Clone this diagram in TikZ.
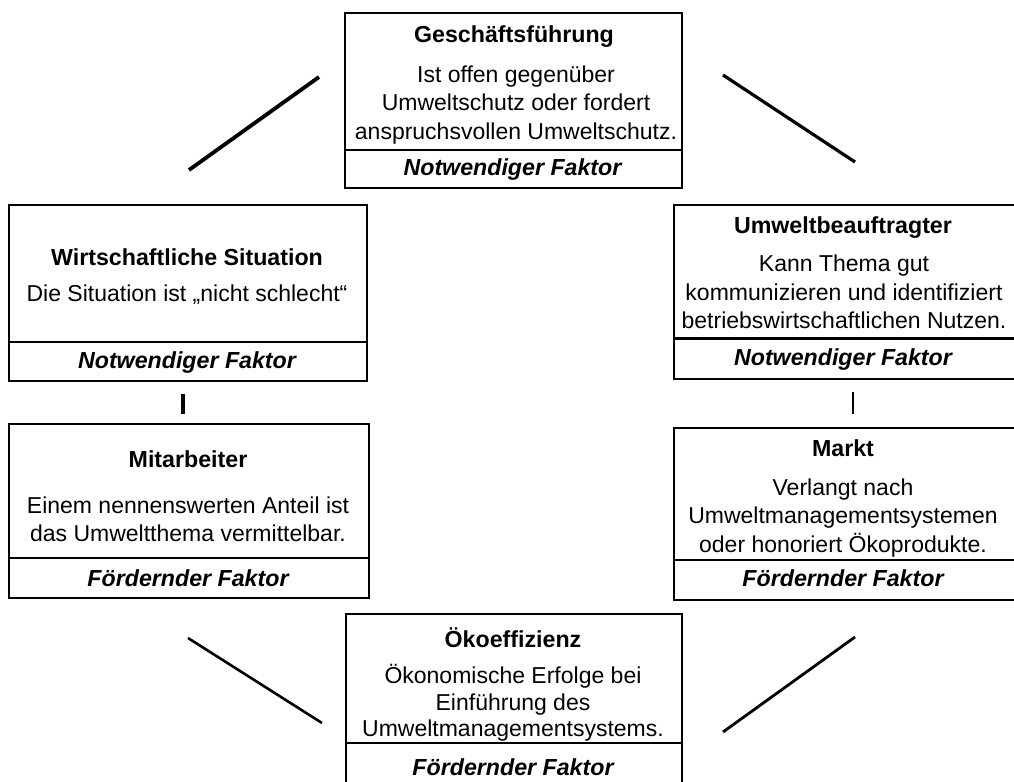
\documentclass[tikz,border=0pt]{standalone}
\usepackage{fontspec}
\setmainfont{Liberation Sans}
\begin{document}
\begin{tikzpicture}[x=0.5pt,y=-0.5pt,
  frame/.style={draw, line width=1pt, inner sep=0pt, anchor=north west},
  divline/.style={line width=1pt},
  conn/.style={line width=1.6pt},
  ttl/.style={font=\bfseries\fontsize{11.6}{14}\selectfont, inner sep=0pt},
  body/.style={font=\fontsize{11.5}{14.2}\selectfont, align=center, inner sep=0pt},
  tightbody/.style={font=\fontsize{11.5}{13.2}\selectfont, align=center, inner sep=0pt},
  factor/.style={font=\bfseries\itshape\fontsize{11.6}{14}\selectfont, inner sep=0pt},
]
\useasboundingbox (0,0) rectangle (1014,782);

% ---------- Geschäftsführung ----------
\node[frame, minimum width=168.5pt, minimum height=87.5pt] (gf) at (344,12) {};
\coordinate (gfdiv) at (0,150);
\draw[divline] (gf.west |- gfdiv) -- (gf.east |- gfdiv);
\node[ttl] (gft) at (514,37) {Geschäftsführung};
\node[body] (gfb) at (516,105) {Ist offen gegenüber\\Umweltschutz oder fordert\\anspruchsvollen Umweltschutz.};
\node[factor] (gff) at (512.5,169) {Notwendiger Faktor};

% ---------- Wirtschaftliche Situation ----------
\node[frame, minimum width=179pt, minimum height=88pt] (ws) at (8,204) {};
\coordinate (wsdiv) at (0,342);
\draw[divline] (ws.west |- wsdiv) -- (ws.east |- wsdiv);
\node[ttl] (wst) at (187,257) {Wirtschaftliche Situation};
\node[body] (wsb) at (187,295) {Die Situation ist „nicht schlecht“};
\node[factor] (wsf) at (187,362) {Notwendiger Faktor};

% ---------- Umweltbeauftragter ----------
\node[frame, minimum width=171.5pt, minimum height=87pt] (ub) at (673,204) {};
\coordinate (ubdiv) at (0,338);
\draw[line width=1.5pt] (ub.west |- ubdiv) -- (ub.east |- ubdiv);
\node[ttl] (ubt) at (843,228) {Umweltbeauftragter};
\node[body] (ubb) at (844,292) {Kann Thema gut\\kommunizieren und identifiziert\\betriebswirtschaftlichen Nutzen.};
\node[factor] (ubf) at (843,359) {Notwendiger Faktor};

% ---------- Mitarbeiter ----------
\node[frame, minimum width=180pt, minimum height=87pt] (ma) at (8,423) {};
\coordinate (madiv) at (0,558);
\draw[divline] (ma.west |- madiv) -- (ma.east |- madiv);
\node[ttl] (mat) at (188,459) {Mitarbeiter};
\node[body] (mab) at (188,519) {Einem nennenswerten Anteil ist\\das Umweltthema vermittelbar.};
\node[factor] (maf) at (188,578) {Fördernder Faktor};

% ---------- Markt ----------
\node[frame, minimum width=171.5pt, minimum height=86pt] (mk) at (673,427) {};
\coordinate (mkdiv) at (0,560);
\draw[divline] (mk.west |- mkdiv) -- (mk.east |- mkdiv);
\node[ttl] (mkt) at (843,448) {Markt};
\node[body] (mkb) at (843,518) {Verlangt nach\\Umweltmanagementsystemen\\oder honoriert Ökoprodukte.};
\node[factor] (mkf) at (843,578) {Fördernder Faktor};

% ---------- Ökoeffizienz ----------
\node[frame, minimum width=168pt, minimum height=90pt] (oe) at (345,613) {};
\coordinate (oediv) at (0,743);
\draw[divline] (oe.west |- oediv) -- (oe.east |- oediv);
\node[ttl] (oet) at (513,638) {Ökoeffizienz};
\node[tightbody] (oeb) at (513,703) {Ökonomische Erfolge bei\\Einführung des\\Umweltmanagementsystems.};
\node[factor] (oef) at (513,767) {Fördernder Faktor};

% ---------- Connectors ----------
\coordinate (tl1) at (189,170);
\coordinate (tl2) at (319,77);
\coordinate (tr1) at (723,75);
\coordinate (tr2) at (855,162);
\coordinate (lv1) at (183,394);
\coordinate (lv2) at (183,414);
\coordinate (rv1) at (853,392);
\coordinate (rv2) at (853,414);
\coordinate (bl1) at (188,638);
\coordinate (bl2) at (322,723);
\coordinate (br1) at (723,732);
\coordinate (br2) at (855,637);

\draw[conn, line width=1.9pt] (tl1) -- (tl2);
\draw[conn] (tr1) -- (tr2);
\draw[conn, line width=2.2pt] (lv1) -- (lv2);
\draw[conn, line width=1.4pt] (rv1) -- (rv2);
\draw[conn, line width=1.3pt] (bl1) -- (bl2);
\draw[conn, line width=1.4pt] (br1) -- (br2);
\end{tikzpicture}
\end{document}
